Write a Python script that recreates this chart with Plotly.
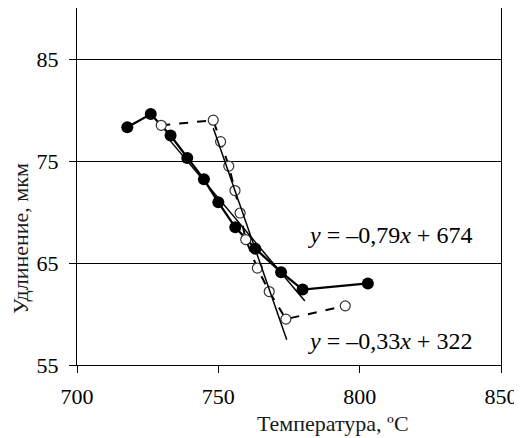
import numpy as np
import plotly.graph_objects as go

# Filled-circle series (solid line)
temp_a = [717.8, 726.1, 733.1, 739.0, 744.9, 750.0, 756.0, 763.1, 772.2, 779.8, 802.9]
elong_a = [78.3, 79.6, 77.5, 75.3, 73.2, 70.95, 68.5, 66.4, 64.1, 62.4, 63.0]

# Open-circle series (dashed line)
temp_b = [729.8, 748.2, 750.8, 753.7, 755.9, 757.7, 759.7, 763.8, 768.0, 773.9, 794.9]
elong_b = [78.5, 79.0, 76.9, 74.5, 72.1, 69.9, 67.3, 64.5, 62.2, 59.5, 60.8]

# Index ranges used for the linear trend lines
fit_a = slice(2, 10)
fit_b = slice(1, 10)

eq_labels = ["<i>y</i> = –0,79<i>x</i> + 674", "<i>y</i> = –0,33<i>x</i> + 322"]
x_ticks = [700, 750, 800, 850]
y_ticks = [55, 65, 75, 85]

FONT = "Liberation Serif"

# page body has an 8px default margin; plot area targets x 77..501, y 8..365 in the window
OFF = 8
L, R, T, B = 77 - OFF, 21, 8 - OFF, 73
W, H = 522 - OFF, 438 - OFF
PW, PH = W - L - R, H - T - B

def trend(xs, ys, sl, pad=(0.0, 0.0)):
    x = np.array(xs[sl]); y = np.array(ys[sl])
    k, b = np.polyfit(x, y, 1)
    xx = np.array([x.min() - pad[0], x.max() + pad[1]])
    return xx, k * xx + b

fig = go.Figure()
fig.add_trace(go.Scatter(
    x=temp_a, y=elong_a, mode="lines+markers",
    line=dict(color="black", width=2.3),
    marker=dict(symbol="circle", size=12, color="black"),
    showlegend=False))
fig.add_trace(go.Scatter(
    x=temp_b, y=elong_b, mode="lines+markers",
    line=dict(color="black", width=2, dash="dash"),
    marker=dict(symbol="circle", size=10, color="white", line=dict(color="#333", width=1.2)),
    showlegend=False))

tx, ty = trend(temp_a, elong_a, fit_a, pad=(1.5, 0.8))
fig.add_trace(go.Scatter(x=tx, y=ty, mode="lines", line=dict(color="black", width=1.5), showlegend=False))
tx, ty = trend(temp_b, elong_b, fit_b, pad=(0.0, 0.3))
fig.add_trace(go.Scatter(x=tx, y=ty, mode="lines", line=dict(color="black", width=1.5), showlegend=False))

fig.add_annotation(x=781, y=67.7, xref="x", yref="y", xanchor="left", yanchor="middle",
                   text=eq_labels[0], showarrow=False,
                   font=dict(family=FONT, size=24, color="black"))
fig.add_annotation(x=781, y=57.4, xref="x", yref="y", xanchor="left", yanchor="middle",
                   text=eq_labels[1], showarrow=False,
                   font=dict(family=FONT, size=24, color="black"))

fig.add_annotation(x=(333 - 77) / PW, y=-(423 - 365) / PH, xref="paper", yref="paper",
                   xanchor="center", yanchor="middle",
                   text="Температура, ºC", showarrow=False,
                   font=dict(family=FONT, size=22, color="#1a1a1a"))
fig.add_annotation(x=-(77 - 21) / PW, y=(365 - 239) / PH, xref="paper", yref="paper",
                   xanchor="center", yanchor="middle", text="Удлинение, мкм",
                   textangle=-90, showarrow=False, font=dict(family=FONT, size=22, color="#1a1a1a"))

fig.update_xaxes(range=[700, 850], tickvals=x_ticks, showgrid=False, zeroline=False,
                 showline=True, linecolor="black", linewidth=1, mirror=True,
                 ticks="outside", ticklen=7, tickcolor="black", ticklabelstandoff=5,
                 tickfont=dict(family=FONT, size=22, color="black"))
fig.update_yaxes(range=[55, 90], tickvals=y_ticks, showgrid=True, gridcolor="black", gridwidth=1,
                 zeroline=False, showline=True, linecolor="black", linewidth=1, mirror=True,
                 ticks="outside", ticklen=7, tickcolor="black", ticklabelstandoff=6,
                 tickfont=dict(family=FONT, size=22, color="black"))

fig.update_layout(width=W, height=H, margin=dict(l=L, r=R, t=T, b=B),
                  plot_bgcolor="white", paper_bgcolor="white",
                  font=dict(family=FONT, color="black"))
fig.write_html("out.html")
